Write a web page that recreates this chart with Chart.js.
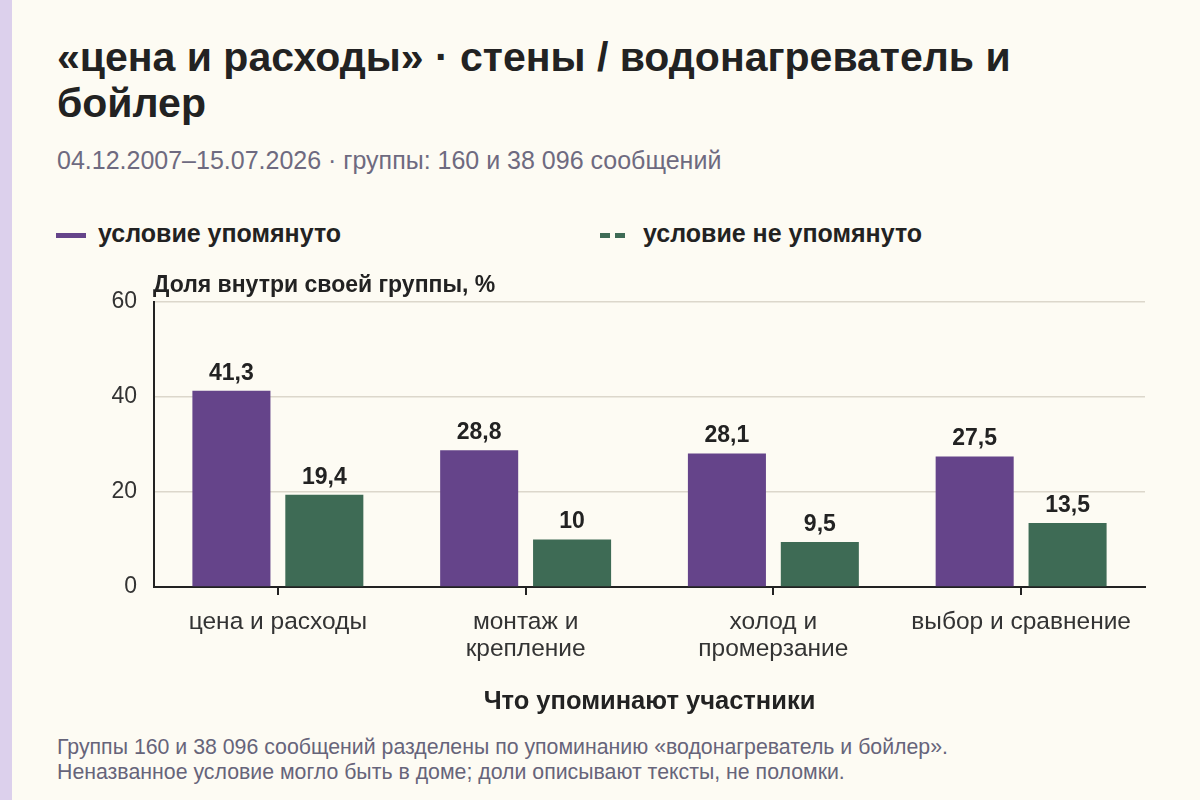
<!DOCTYPE html>
<html lang="ru">
<head>
<meta charset="UTF-8">
<title>цена и расходы · стены / водонагреватель и бойлер</title>
<script src="https://cdn.jsdelivr.net/npm/chart.js"></script>
<style>
    html, body {
        margin: 0;
        padding: 0;
        background: #fdfbf3;
        font-family: "Liberation Sans", Arial, sans-serif;
    }
    #page {
        position: relative;
        width: 1200px;
        height: 800px;
        overflow: hidden;
        background: #fdfbf3;
    }
    #stripe {
        position: absolute;
        left: 0; top: 0;
        width: 12px; height: 800px;
        background: #dcd0ec;
    }
    h1 {
        position: absolute;
        left: 57px; top: 34px;
        width: 1030px;
        margin: 0;
        font-size: 41px;
        line-height: 46px;
        font-weight: bold;
        color: #222;
    }
    #sub {
        position: absolute;
        left: 57px; top: 145px;
        font-size: 25px;
        line-height: 30px;
        color: #6e6a80;
    }
    .leg {
        position: absolute;
        top: 218px;
        font-size: 25px;
        font-weight: bold;
        color: #222;
        line-height: 30px;
    }
    .sw {
        position: absolute;
        top: 233px;
        width: 30px;
        height: 5px;
    }
    #sw1 { left: 56px; background: #65448a; }
    #sw2 {
        left: 600px;
        background: repeating-linear-gradient(90deg, #3e6b55 0 10px, transparent 10px 15px);
    }
    #box {
        position: absolute;
        left: 0; top: 260px;
        width: 1200px; height: 460px;
    }
    #note {
        position: absolute;
        left: 57px; top: 735px;
        font-size: 21.3px;
        line-height: 25px;
        color: #66647a;
    }
</style>
</head>
<body>
<div id="page">
    <div id="stripe"></div>
    <h1>«цена и расходы» · стены / водонагреватель и бойлер</h1>
    <div id="sub">04.12.2007–15.07.2026 · группы: 160 и 38 096 сообщений</div>
    <div class="sw" id="sw1"></div>
    <div class="leg" style="left:98px">условие упомянуто</div>
    <div class="sw" id="sw2"></div>
    <div class="leg" style="left:643px">условие не упомянуто</div>
    <div id="box"><canvas id="chart"></canvas></div>
    <div id="note">Группы 160 и 38 096 сообщений разделены по упоминанию «водонагреватель и бойлер».<br>Неназванное условие могло быть в доме; доли описывают тексты, не поломки.</div>
</div>

<script>
    const categories = ['цена и расходы', ['монтаж и', 'крепление'], ['холод и', 'промерзание'], 'выбор и сравнение'];
    const mentioned = [41.3, 28.8, 28.1, 27.5];
    const notMentioned = [19.4, 10, 9.5, 13.5];
    const yTicks = [0, 20, 40, 60];

    const FONT = '"Liberation Sans", Arial, sans-serif';

    // подписи значений над столбцами
    const valueLabels = {
        id: 'valueLabels',
        afterDatasetsDraw(chart) {
            const ctx = chart.ctx;
            ctx.save();
            ctx.font = 'bold 23px ' + FONT;
            ctx.fillStyle = '#222';
            ctx.textAlign = 'center';
            ctx.textBaseline = 'bottom';
            chart.data.datasets.forEach((ds, i) => {
                chart.getDatasetMeta(i).data.forEach((bar, j) => {
                    ctx.fillText(String(ds.data[j]).replace('.', ','), bar.x, bar.y - 6);
                });
            });
            ctx.restore();
        }
    };

    // подпись оси Y и засечки по центрам категорий
    const axisExtras = {
        id: 'axisExtras',
        afterDraw(chart) {
            const ctx = chart.ctx;
            const x = chart.scales.x;
            const bottom = chart.chartArea.bottom;
            ctx.save();
            ctx.fillStyle = '#222';
            categories.forEach((c, i) => {
                const px = Math.round(x.getPixelForValue(i));
                ctx.fillRect(px - 1, bottom, 2, 8);
            });
            ctx.font = 'bold 23px ' + FONT;
            ctx.textAlign = 'left';
            ctx.textBaseline = 'middle';
            ctx.fillText('Доля внутри своей группы, %', chart.chartArea.left - 1, chart.chartArea.top - 16);
            ctx.restore();
        }
    };

    new Chart(document.getElementById('chart'), {
        type: 'bar',
        data: {
            labels: categories,
            datasets: [{
                label: 'условие упомянуто',
                data: mentioned,
                backgroundColor: '#65448a',
                categoryPercentage: 0.75,
                barPercentage: 0.84
            }, {
                label: 'условие не упомянуто',
                data: notMentioned,
                backgroundColor: '#3e6b55',
                categoryPercentage: 0.75,
                barPercentage: 0.84
            }]
        },
        options: {
            responsive: true,
            maintainAspectRatio: false,
            animation: false,
            layout: { padding: { top: 42, right: 55, left: 0, bottom: 0 } },
            plugins: {
                legend: { display: false },
                tooltip: { enabled: false }
            },
            scales: {
                x: {
                    afterFit(scale) { scale.height = 133; },
                    grid: { drawOnChartArea: false, tickLength: 7, color: 'rgba(0,0,0,0)' },
                    border: { color: '#222', width: 2 },
                    ticks: {
                        color: '#333',
                        padding: 15,
                        font: { size: 24.5, family: FONT, lineHeight: '27px' }
                    },
                    title: {
                        display: true,
                        text: 'Что упоминают участники',
                        color: '#222',
                        padding: { top: 0, bottom: 3 },
                        font: { size: 25.5, weight: 'bold', family: FONT }
                    }
                },
                y: {
                    min: 0,
                    max: 60,
                    afterFit(scale) { scale.width = 154; },
                    afterBuildTicks(scale) { scale.ticks = yTicks.map(v => ({ value: v })); },
                    grid: { color: '#dcd7cb', lineWidth: 1.5, tickLength: 0 },
                    border: { color: '#222', width: 2 },
                    ticks: {
                        color: '#333',
                        padding: 17,
                        font: { size: 23, family: FONT }
                    }
                }
            }
        },
        plugins: [valueLabels, axisExtras]
    });
</script>
</body>
</html>
